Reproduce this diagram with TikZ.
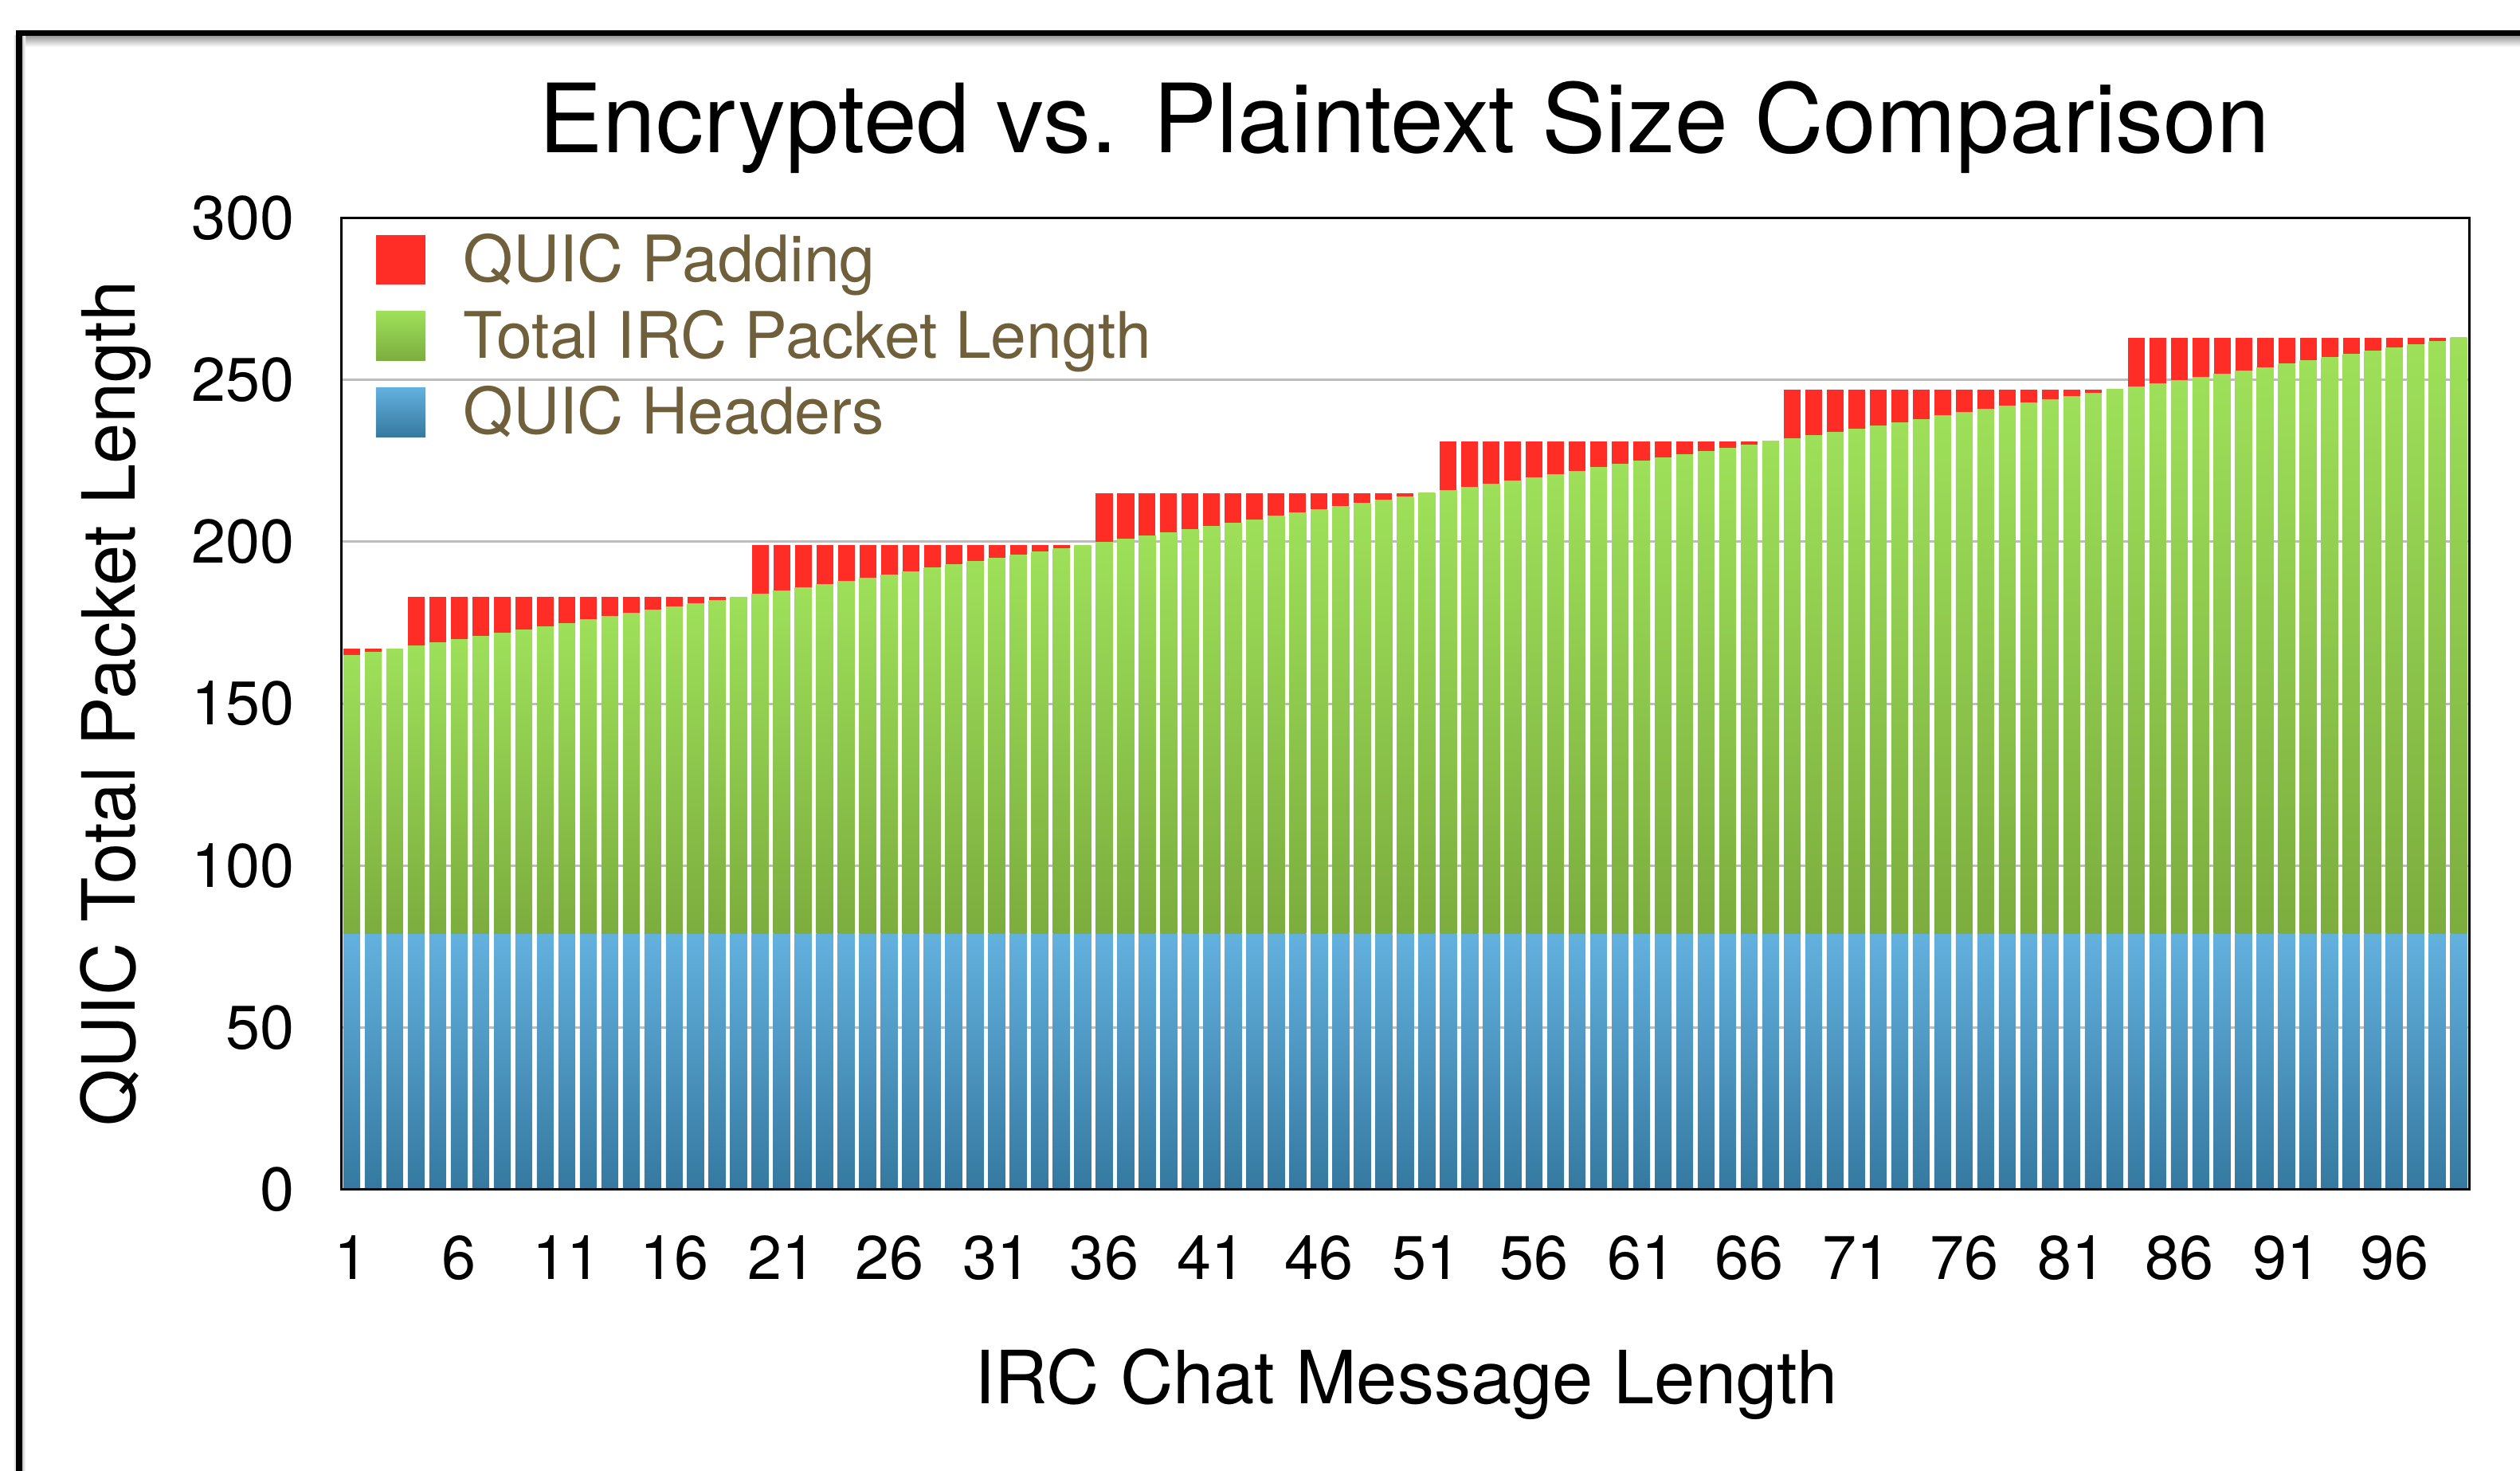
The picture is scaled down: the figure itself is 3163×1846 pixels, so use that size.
\documentclass[tikz,border=0pt]{standalone}
\usepackage{fontspec}
\setmainfont{TeX Gyre Heros}
\definecolor{padred}{RGB}{255,45,38}
\definecolor{irclight}{RGB}{158,224,90}
\definecolor{ircdark}{RGB}{124,173,62}
\definecolor{hdrlight}{RGB}{99,177,223}
\definecolor{hdrdark}{RGB}{53,121,160}
\definecolor{legtext}{RGB}{111,95,59}
\definecolor{gridgray}{RGB}{189,189,189}

\begin{document}
\begin{tikzpicture}[x=0.01cm, y=0.01cm,
  ticklbl/.style={inner sep=0, font=\fontsize{22}{26}\selectfont},
  axislbl/.style={inner sep=0, anchor=base, font=\fontsize{26.2}{30}\selectfont},
  legtxt/.style={inner sep=0, anchor=base west, text=legtext, font=\fontsize{22.9}{26}\selectfont},
  swatch/.style={minimum width=0.62cm, minimum height=0.62cm, inner sep=0},
  hdrbar/.style={top color=hdrlight, bottom color=hdrdark},
  ircbar/.style={top color=irclight, bottom color=ircdark},
  padbar/.style={fill=padred}]
\useasboundingbox (0,0) rectangle (3163,1846);

\shade[top color=black!40, bottom color=white] (27.5,1787) rectangle (3163,1801);
\shade[left color=black!25, right color=white] (27.5,0) rectangle (32,1801);
\shade[left color=white, right color=black!20] (16,0) rectangle (20.5,1801);
\draw[line width=0.07cm] (24,0) -- (24,1804.5) -- (3163,1804.5);

\node[axislbl, font=\fontsize{34.1}{40}\selectfont] (title) at (1763,1654) {Encrypted vs. Plaintext Size Comparison};

\begin{scope}[shift={(428,353.5)}, x=0.2697cm, y=0.0406cm]
\foreach \v in {50,100,...,250}
  \draw[gridgray, line width=0.03cm] (0,\v) -- (99,\v);
\foreach \i in {1,...,99}{
  \pgfmathtruncatemacro{\ircTop}{164+\i}
  \pgfmathtruncatemacro{\padTop}{167+16*max(0,ceil((\i-3)/16))}
  \shade[hdrbar] (\i-0.89,0) rectangle (\i-0.11,79);
  \shade[ircbar] (\i-0.89,79) rectangle (\i-0.11,\ircTop);
  \ifnum\padTop>\ircTop
    \fill[padbar] (\i-0.89,\ircTop) rectangle (\i-0.11,\padTop);
  \fi
}
\draw[line width=0.03cm] (0,0) rectangle (99,300);
\foreach \v in {0,50,...,300}
  \node[ticklbl, anchor=east, xshift=-0.58cm] (ytick\v) at (0,\v) {\v};
\foreach \n in {1,6,...,96}
  \node[ticklbl, anchor=base, yshift=-1.125cm] (xtick\n) at (\n-0.5,0) {\n};
\end{scope}

\node[swatch, padbar] (padkey) at (503,1520) {};
\node[swatch, ircbar] (irckey) at (503,1424) {};
\node[swatch, hdrbar] (hdrkey) at (503,1328.5) {};
\node[legtxt] (padtxt) at (581,1492) {QUIC Padding};
\node[legtxt] (irctxt) at (581,1396) {Total IRC Packet Length};
\node[legtxt] (hdrtxt) at (581,1301) {QUIC Headers};

\node[axislbl] (xlabel) at (1765,84) {IRC Chat Message Length};
\node[axislbl, rotate=90] (ylabel) at (169,963) {QUIC Total Packet Length};
\end{tikzpicture}
\end{document}
